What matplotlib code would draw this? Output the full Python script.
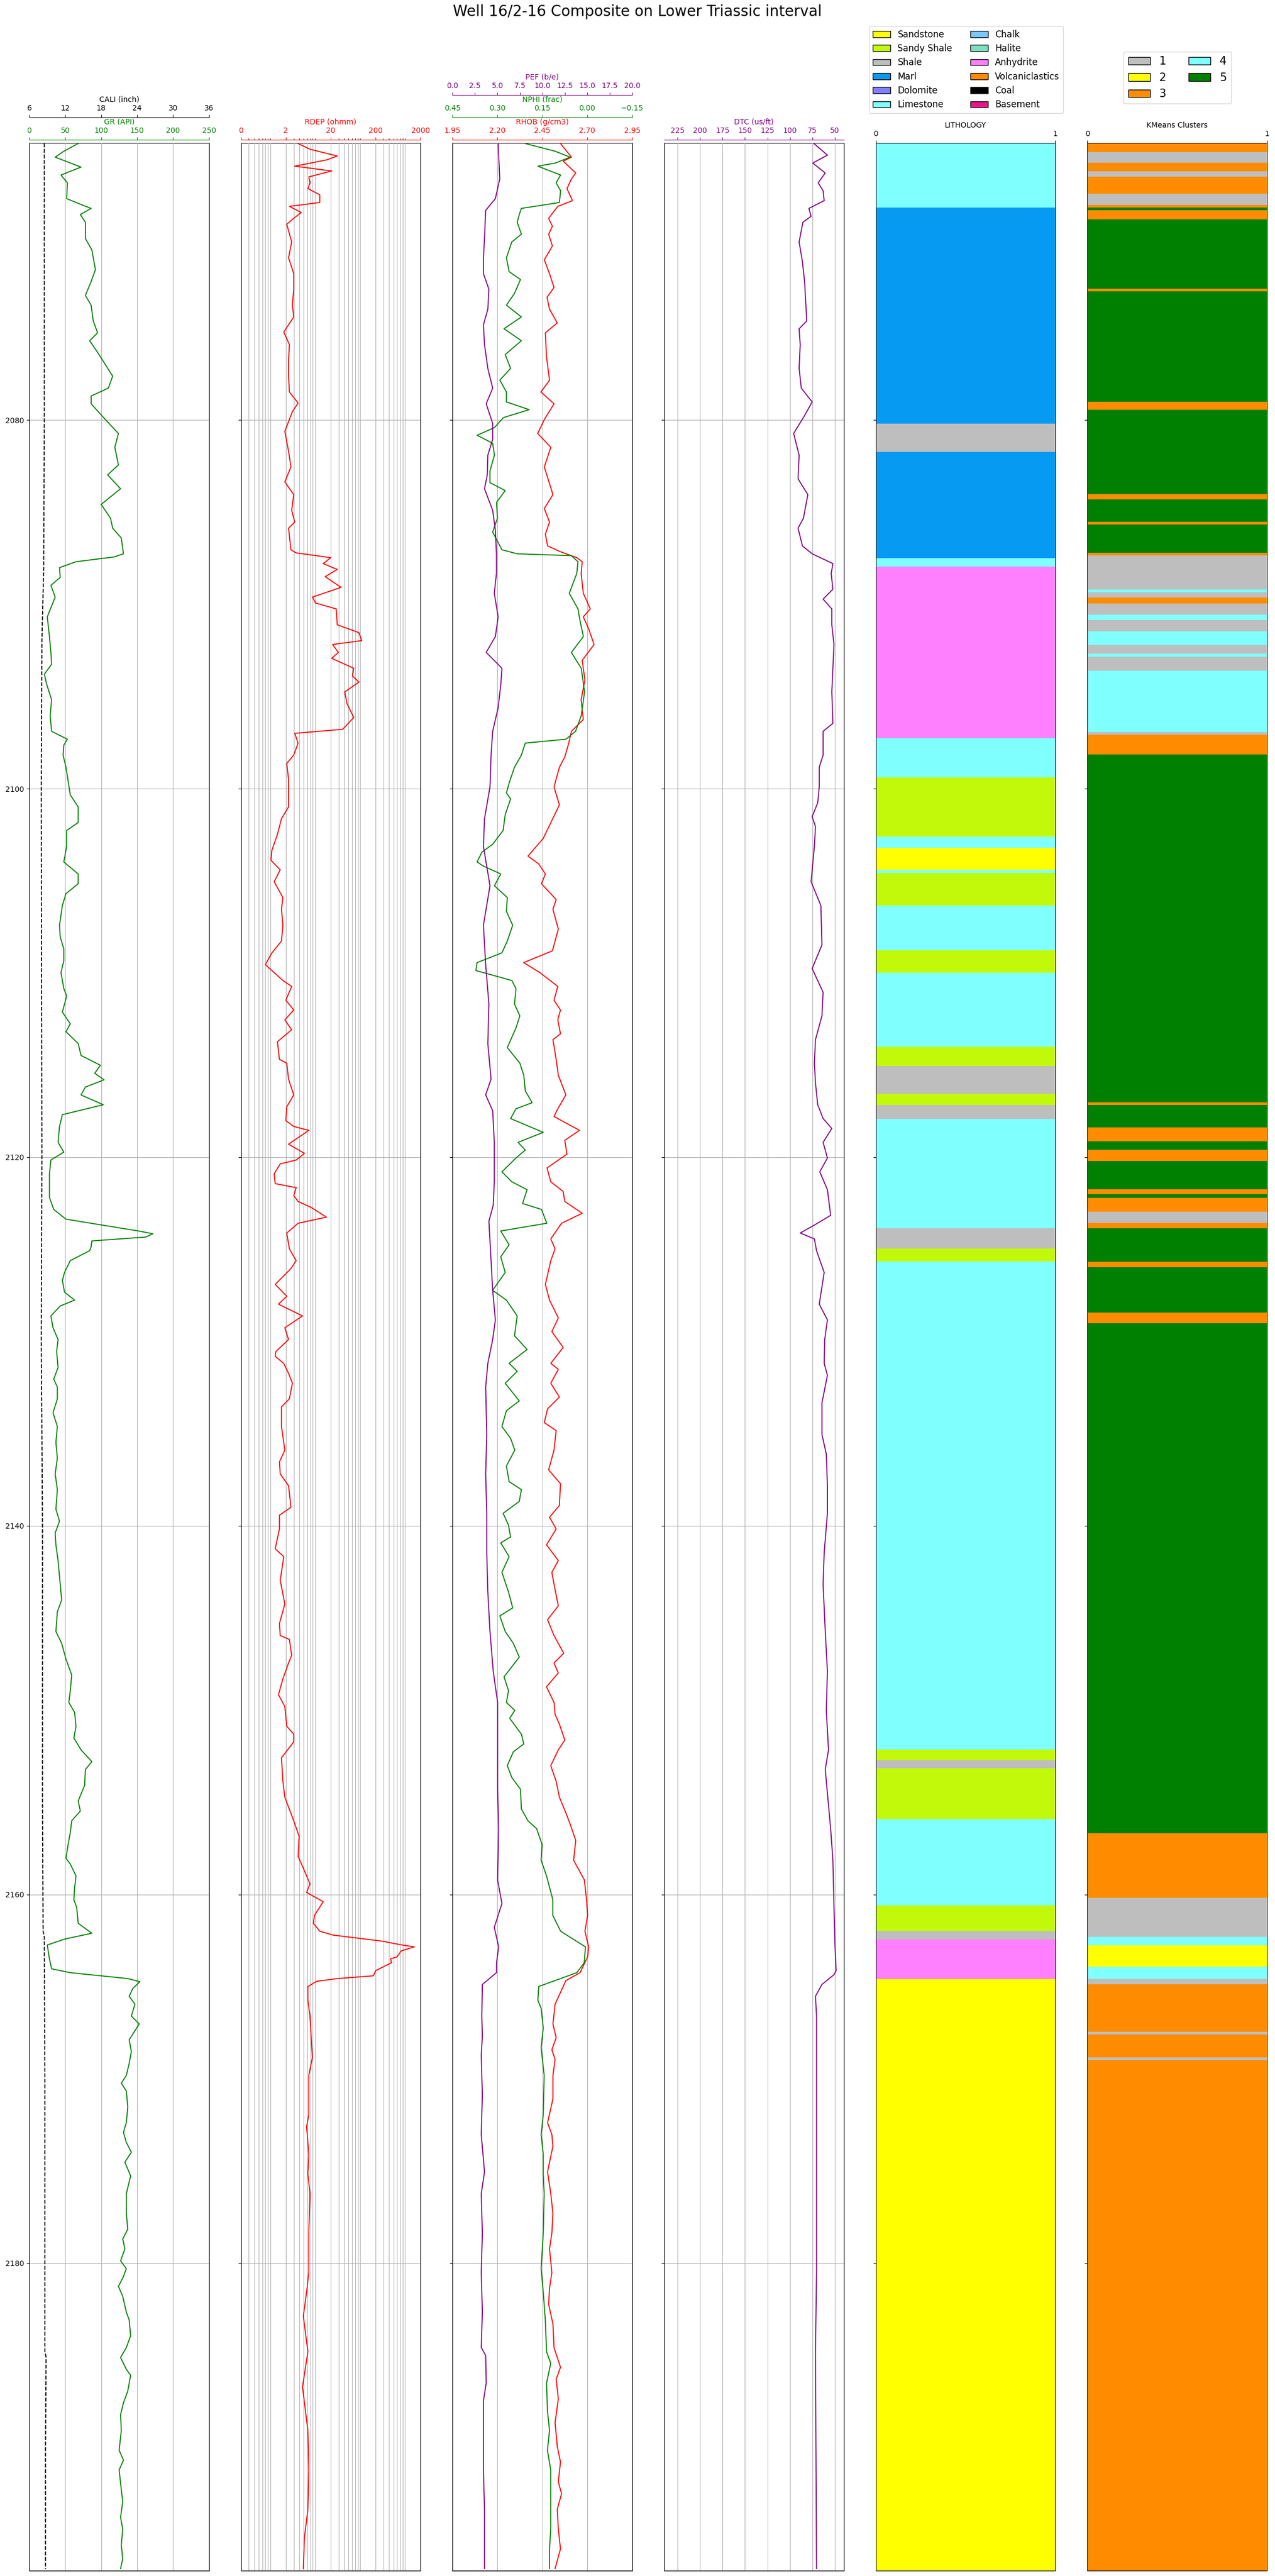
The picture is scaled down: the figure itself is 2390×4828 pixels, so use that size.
import numpy as np
import matplotlib
matplotlib.use("Agg")
import matplotlib.pyplot as plt
from matplotlib.patches import Patch

# ---------------- curve data (depth in m) ----------------
gr_depth = [2065.0, 2065.42, 2065.74, 2066.28, 2066.71, 2067.13, 2067.99, 2068.31, 2068.52, 2068.85,
            2069.27, 2070.15, 2070.77, 2071.84, 2072.49, 2073.24, 2073.77, 2074.63, 2075.27, 2075.70,
            2076.45, 2077.62, 2078.27, 2078.70, 2079.12, 2079.98, 2080.73, 2081.48, 2082.44, 2082.98,
            2083.73, 2084.58, 2085.33, 2085.87, 2086.40, 2087.26, 2087.43, 2087.69, 2088.01, 2088.54,
            2088.97, 2089.61, 2090.68, 2091.75, 2092.61, 2093.25, 2093.79, 2094.32, 2095.18, 2096.04,
            2096.89, 2097.32, 2097.64, 2098.18, 2098.84, 2100.34, 2100.99, 2101.84, 2102.27, 2103.13,
            2103.98, 2104.63, 2105.16, 2105.70, 2106.34, 2107.41, 2108.05, 2108.69, 2109.34, 2109.98,
            2110.84, 2111.26, 2112.12, 2112.76, 2113.19, 2113.83, 2114.48, 2115.01, 2115.44, 2115.80,
            2116.19, 2116.62, 2117.15, 2117.69, 2118.33, 2119.19, 2119.72, 2120.15, 2120.90, 2122.18,
            2122.83, 2123.36, 2124.00, 2124.15, 2124.33, 2124.54, 2124.86, 2125.07, 2125.61, 2126.25,
            2126.68, 2127.32, 2127.75, 2128.07, 2128.61, 2129.25, 2129.89, 2130.54, 2131.40, 2132.04,
            2132.47, 2133.11, 2133.86, 2134.61, 2135.47, 2136.32, 2137.18, 2138.03, 2139.10, 2139.74,
            2140.39, 2141.03, 2141.88, 2143.17, 2144.02, 2144.66, 2145.73, 2146.37, 2147.23, 2148.09,
            2148.94, 2149.58, 2150.12, 2150.87, 2151.51, 2152.15, 2152.79, 2153.22, 2154.07, 2154.93,
            2155.47, 2156.00, 2156.64, 2157.28, 2158.03, 2158.35, 2158.99, 2159.64, 2160.28, 2160.71,
            2161.56, 2162.10, 2162.42, 2162.74, 2163.49, 2164.03, 2164.24, 2164.56, 2164.73, 2165.10,
            2165.52, 2165.95, 2166.60, 2167.02, 2167.88, 2168.52, 2169.16, 2169.81, 2170.24, 2170.66,
            2171.52, 2172.38, 2172.91, 2173.45, 2173.98, 2174.52, 2175.27, 2176.23, 2177.30, 2178.16,
            2178.69, 2179.23, 2179.87, 2180.30, 2180.73, 2181.26, 2181.80, 2182.66, 2183.08, 2183.94,
            2184.58, 2185.12, 2185.76, 2186.08, 2186.94, 2187.58, 2188.22, 2189.08, 2190.15, 2190.69,
            2191.22, 2192.29, 2192.93, 2193.79, 2194.43, 2195.29, 2196.04, 2196.57]
gr = [68, 48, 36, 72, 44, 53, 52, 72, 86, 71,
      78, 78, 87, 92, 86, 78, 86, 89, 95, 84,
      97, 116, 110, 86, 86, 106, 124, 119, 124, 109,
      127, 100, 113, 116, 128, 131, 118, 65, 42, 43,
      30, 36, 25, 28, 30, 31, 21, 24, 31, 29,
      31, 53, 48, 47, 51, 57, 68, 68, 52, 52,
      48, 68, 68, 51, 46, 42, 43, 48, 48, 44,
      48, 52, 46, 57, 51, 68, 72, 99, 91, 104,
      78, 72, 103, 46, 42, 40, 48, 30, 28, 28,
      34, 51, 152, 172, 162, 87, 86, 84, 57, 49,
      46, 49, 63, 43, 30, 33, 40, 38, 40, 34,
      39, 39, 33, 39, 37, 39, 36, 39, 37, 42,
      36, 37, 40, 43, 45, 39, 37, 45, 51, 59,
      57, 55, 63, 65, 62, 72, 87, 78, 77, 68,
      71, 59, 57, 54, 51, 57, 65, 63, 62, 66,
      68, 87, 49, 25, 28, 31, 57, 137, 154, 144,
      139, 147, 142, 153, 139, 142, 139, 135, 128, 135,
      137, 135, 131, 135, 142, 133, 141, 135, 135, 137,
      130, 133, 127, 135, 131, 124, 130, 135, 139, 141,
      135, 127, 135, 141, 137, 131, 127, 128, 125, 131,
      125, 128, 130, 127, 130, 128, 130, 127]

cali_depth = [2065.0, 2080.0, 2088.0, 2092.0, 2100.0, 2120.0, 2130.0, 2140.0, 2155.0, 2162.0,
              2162.3, 2170.0, 2184.8, 2185.1, 2190.0, 2196.6]
cali = [8.5, 8.5, 8.4, 8.1, 8.0, 8.1, 8.0, 8.2, 8.2, 8.3,
        8.5, 8.6, 8.6, 8.8, 8.7, 8.7]

rdep_depth = [2065.0, 2065.31, 2065.68, 2065.89, 2066.23, 2066.49, 2066.81, 2067.13, 2067.45, 2067.78,
              2068.20, 2068.41, 2068.74, 2069.06, 2069.38, 2070.34, 2071.20, 2072.06, 2072.91, 2073.77,
              2074.41, 2075.23, 2075.91, 2076.77, 2077.62, 2078.48, 2079.08, 2079.55, 2080.62, 2081.69,
              2082.55, 2083.36, 2084.05, 2084.90, 2085.54, 2085.87, 2087.04, 2087.21, 2087.47, 2087.79,
              2088.11, 2088.50, 2089.08, 2089.61, 2089.93, 2090.25, 2091.11, 2091.54, 2091.97, 2092.18,
              2092.61, 2092.93, 2093.47, 2093.89, 2094.22, 2094.75, 2095.39, 2096.14, 2096.78, 2097.00,
              2097.53, 2098.18, 2098.63, 2099.49, 2100.99, 2101.63, 2102.48, 2103.34, 2103.88, 2104.41,
              2105.05, 2105.91, 2106.55, 2107.41, 2108.27, 2108.91, 2109.55, 2110.41, 2110.73, 2111.48,
              2112.01, 2112.55, 2113.08, 2113.73, 2114.69, 2114.90, 2115.76, 2116.62, 2117.26, 2118.01,
              2118.33, 2118.54, 2119.29, 2119.79, 2120.15, 2120.36, 2120.90, 2121.43, 2121.65, 2122.08,
              2122.40, 2122.72, 2123.25, 2123.58, 2124.11, 2124.97, 2125.61, 2126.04, 2126.90, 2127.54,
              2127.97, 2128.61, 2129.25, 2129.89, 2130.54, 2130.80, 2131.19, 2131.72, 2132.26, 2133.11,
              2133.54, 2134.61, 2135.89, 2136.53, 2137.18, 2137.82, 2138.99, 2139.42, 2140.17, 2141.24,
              2141.67, 2142.95, 2144.24, 2145.30, 2145.95, 2146.16, 2147.02, 2147.44, 2148.30, 2149.16,
              2149.80, 2150.87, 2151.30, 2151.72, 2152.58, 2153.86, 2154.72, 2156.00, 2156.85, 2157.93,
              2158.57, 2159.42, 2159.89, 2160.39, 2161.13, 2161.56, 2161.99, 2162.20, 2162.52, 2162.74,
              2162.84, 2163.06, 2163.38, 2163.49, 2163.70, 2164.13, 2164.41, 2164.56, 2164.71, 2164.99,
              2165.74, 2166.60, 2167.67, 2168.84, 2169.81, 2171.95, 2172.59, 2174.09, 2175.16, 2176.23,
              2178.37, 2180.51, 2181.58, 2182.87, 2184.80, 2186.72, 2189.08, 2191.22, 2193.36, 2194.86,
              2196.57]
rdep = [3.75, 6.9, 27.9, 16.1, 3.16, 21, 6.5, 6.9, 6.2, 11.4,
        11.4, 2.4, 4.4, 3.0, 2.1, 2.7, 2.3, 3.0, 3.0, 2.8,
        3.0, 1.8, 2.4, 2.3, 2.3, 2.4, 3.75, 2.8, 1.9, 2.3,
        2.6, 1.9, 3.0, 2.7, 3.16, 2.3, 2.6, 3.4, 20, 13.6,
        27.9, 15, 34, 7.8, 9.2, 26.5, 27.9, 85, 98, 22,
        29.5, 21, 65, 61, 85, 41, 46, 65, 37, 3.16,
        3.75, 3.0, 2.1, 2.3, 2.3, 1.6, 1.3, 0.98, 0.93, 1.5,
        1.1, 1.72, 1.6, 1.72, 1.6, 0.98, 0.7, 1.72, 2.7, 2.0,
        3.0, 1.9, 2.7, 1.3, 1.44, 2.1, 2.3, 3.0, 2.1, 2.0,
        3.0, 6.5, 2.3, 5.2, 3.4, 1.5, 1.1, 1.16, 3.4, 3.0,
        3.75, 7.3, 16, 3.75, 2.1, 2.4, 3.4, 2.6, 1.16, 2.1,
        1.37, 4.7, 1.9, 2.3, 1.2, 1.16, 1.8, 2.3, 2.8, 2.4,
        1.6, 1.6, 1.9, 1.44, 1.5, 2.3, 2.6, 1.44, 1.44, 1.16,
        1.8, 1.5, 1.9, 1.44, 1.5, 2.4, 2.7, 2.3, 1.72, 1.37,
        1.9, 2.1, 3.0, 3.0, 1.6, 1.72, 1.9, 3.0, 3.96, 3.75,
        4.9, 6.9, 5.8, 13.6, 8.7, 8.2, 11.4, 22.4, 260, 780,
        1450, 740, 600, 430, 450, 200, 178, 28, 9.7, 6.2,
        6.2, 6.9, 7.3, 7.8, 6.5, 6.5, 5.8, 6.5, 6.2, 6.9,
        6.5, 6.5, 5.8, 4.9, 6.2, 4.7, 6.2, 6.5, 6.2, 5.2,
        4.9]

rhob_depth = [2065.0, 2065.74, 2065.96, 2066.60, 2066.92, 2067.45, 2068.10, 2068.41, 2069.06, 2069.49,
              2069.92, 2070.56, 2071.31, 2072.06, 2072.81, 2073.34, 2073.99, 2074.73, 2075.27, 2076.55,
              2077.84, 2078.48, 2079.12, 2079.98, 2080.73, 2081.48, 2082.55, 2083.30, 2084.05, 2084.80,
              2085.54, 2086.19, 2086.83, 2087.15, 2087.47, 2087.69, 2088.33, 2089.40, 2090.25, 2090.68,
              2091.33, 2092.18, 2093.04, 2094.11, 2095.18, 2096.25, 2096.89, 2097.53, 2098.28, 2098.84,
              2099.91, 2100.88, 2101.73, 2102.70, 2103.66, 2104.09, 2104.63, 2105.16, 2106.02, 2106.55,
              2107.62, 2108.80, 2109.44, 2109.98, 2110.73, 2111.48, 2112.01, 2112.55, 2113.30, 2113.62,
              2114.69, 2115.55, 2116.62, 2117.37, 2117.79, 2118.54, 2119.08, 2119.83, 2120.58, 2121.33,
              2121.86, 2122.40, 2123.04, 2123.58, 2124.43, 2124.97, 2125.61, 2126.90, 2127.75, 2128.72,
              2129.46, 2130.32, 2131.18, 2131.51, 2132.26, 2133.01, 2133.65, 2134.40, 2134.83, 2135.89,
              2136.96, 2137.71, 2138.89, 2139.53, 2140.17, 2141.03, 2141.88, 2142.52, 2143.17, 2144.34,
              2145.09, 2145.95, 2146.91, 2147.44, 2147.98, 2148.73, 2149.58, 2150.22, 2150.76, 2151.62,
              2152.15, 2153.01, 2153.86, 2154.72, 2155.57, 2156.21, 2157.07, 2158.14, 2159.21, 2160.28,
              2161.13, 2161.99, 2162.84, 2163.38, 2164.24, 2164.67, 2165.31, 2165.95, 2167.02, 2167.77,
              2168.42, 2168.95, 2169.81, 2171.09, 2172.38, 2173.02, 2173.66, 2174.52, 2175.05, 2176.23,
              2177.30, 2178.37, 2179.23, 2180.51, 2181.37, 2182.23, 2183.30, 2184.58, 2185.65, 2186.30,
              2187.37, 2188.65, 2189.94, 2190.79, 2191.86, 2192.51, 2193.36, 2194.43, 2195.50, 2196.57]
rhob = [2.551, 2.612, 2.566, 2.636, 2.612, 2.587, 2.618, 2.536, 2.485, 2.506,
        2.485, 2.506, 2.461, 2.49, 2.515, 2.476, 2.49, 2.533, 2.467, 2.473,
        2.49, 2.442, 2.515, 2.461, 2.424, 2.497, 2.461, 2.485, 2.509, 2.461,
        2.49, 2.467, 2.479, 2.551, 2.642, 2.672, 2.666, 2.678, 2.717, 2.678,
        2.708, 2.738, 2.672, 2.687, 2.666, 2.678, 2.612, 2.597, 2.575, 2.545,
        2.515, 2.545, 2.503, 2.455, 2.37, 2.43, 2.467, 2.445, 2.527, 2.509,
        2.539, 2.506, 2.346, 2.436, 2.536, 2.515, 2.551, 2.536, 2.551, 2.509,
        2.527, 2.539, 2.581, 2.536, 2.515, 2.657, 2.575, 2.587, 2.476, 2.497,
        2.566, 2.575, 2.672, 2.557, 2.497, 2.521, 2.497, 2.467, 2.49, 2.539,
        2.503, 2.566, 2.497, 2.539, 2.497, 2.545, 2.479, 2.461, 2.527, 2.515,
        2.485, 2.551, 2.545, 2.49, 2.527, 2.473, 2.539, 2.503, 2.515, 2.539,
        2.479, 2.515, 2.569, 2.515, 2.539, 2.473, 2.515, 2.521, 2.545, 2.575,
        2.539, 2.497, 2.527, 2.545, 2.581, 2.606, 2.636, 2.624, 2.684, 2.696,
        2.702, 2.687, 2.708, 2.702, 2.66, 2.581, 2.551, 2.521, 2.509, 2.527,
        2.503, 2.521, 2.509, 2.509, 2.479, 2.503, 2.509, 2.49, 2.479, 2.497,
        2.509, 2.503, 2.49, 2.503, 2.49, 2.485, 2.509, 2.515, 2.551, 2.527,
        2.539, 2.521, 2.533, 2.551, 2.539, 2.557, 2.533, 2.539, 2.551, 2.521]

nphi_depth = [2065.0, 2065.42, 2065.74, 2066.06, 2066.23, 2066.71, 2067.13, 2067.56, 2068.20, 2068.52,
              2068.85, 2069.27, 2069.92, 2070.34, 2071.20, 2071.95, 2072.38, 2073.13, 2073.77, 2074.41,
              2075.05, 2075.70, 2076.45, 2077.20, 2077.84, 2078.48, 2079.02, 2079.44, 2079.87, 2080.41,
              2080.83, 2081.26, 2081.91, 2082.76, 2083.40, 2083.83, 2084.47, 2085.33, 2086.08, 2087.04,
              2087.26, 2087.36, 2087.69, 2088.33, 2089.40, 2090.25, 2090.90, 2091.75, 2092.61, 2093.47,
              2094.75, 2096.04, 2096.89, 2097.32, 2097.53, 2098.18, 2098.84, 2099.70, 2100.24, 2100.56,
              2101.41, 2102.27, 2103.02, 2103.45, 2103.98, 2104.20, 2104.63, 2105.27, 2105.91, 2106.66,
              2107.41, 2108.27, 2108.91, 2109.44, 2109.87, 2110.41, 2110.84, 2111.69, 2112.33, 2112.98,
              2114.05, 2114.90, 2115.55, 2116.40, 2117.04, 2117.37, 2117.90, 2118.65, 2119.19, 2119.61,
              2120.04, 2120.79, 2121.33, 2121.76, 2122.51, 2122.83, 2123.58, 2124.00, 2124.75, 2125.40,
              2126.25, 2127.22, 2127.75, 2128.61, 2129.68, 2130.43, 2131.18, 2131.61, 2132.26, 2133.22,
              2133.75, 2134.61, 2135.25, 2135.89, 2136.75, 2137.60, 2138.03, 2138.67, 2139.32, 2139.96,
              2140.60, 2140.92, 2141.67, 2142.52, 2143.59, 2144.45, 2144.88, 2145.73, 2146.37, 2147.12,
              2148.19, 2148.94, 2149.58, 2150.01, 2150.44, 2151.30, 2151.83, 2152.26, 2153.01, 2153.65,
              2154.29, 2155.36, 2156.00, 2156.43, 2157.28, 2158.14, 2158.99, 2160.28, 2161.13, 2161.99,
              2162.84, 2163.70, 2164.24, 2164.99, 2165.74, 2166.17, 2167.24, 2168.31, 2169.81, 2171.95,
              2173.02, 2174.09, 2175.16, 2176.23, 2178.37, 2180.30, 2181.58, 2183.08, 2184.80, 2185.44,
              2186.51, 2188.01, 2189.08, 2190.15, 2191.22, 2193.36, 2194.43, 2195.50, 2196.57]
nphi = [0.207, 0.107, 0.057, 0.107, 0.165, 0.089, 0.104, 0.089, 0.093, 0.22,
        0.227, 0.234, 0.22, 0.252, 0.27, 0.261, 0.223, 0.243, 0.27, 0.22,
        0.278, 0.22, 0.274, 0.256, 0.292, 0.27, 0.27, 0.194, 0.28, 0.31,
        0.368, 0.316, 0.31, 0.325, 0.325, 0.274, 0.303, 0.3, 0.316, 0.285,
        0.234, 0.053, 0.031, 0.035, 0.06, 0.031, 0.024, 0.013, 0.053, 0.02,
        0.009, 0.02, 0.039, 0.071, 0.207, 0.22, 0.243, 0.261, 0.27, 0.256,
        0.274, 0.281, 0.316, 0.352, 0.368, 0.347, 0.289, 0.31, 0.267, 0.27,
        0.249, 0.267, 0.285, 0.368, 0.372, 0.252, 0.238, 0.243, 0.225, 0.238,
        0.267, 0.225, 0.212, 0.207, 0.184, 0.238, 0.256, 0.147, 0.231, 0.207,
        0.238, 0.285, 0.252, 0.201, 0.216, 0.153, 0.135, 0.289, 0.261, 0.289,
        0.274, 0.316, 0.27, 0.234, 0.243, 0.201, 0.261, 0.234, 0.274, 0.227,
        0.27, 0.285, 0.256, 0.242, 0.27, 0.261, 0.22, 0.227, 0.281, 0.263,
        0.256, 0.289, 0.261, 0.285, 0.263, 0.249, 0.292, 0.274, 0.247, 0.227,
        0.278, 0.263, 0.27, 0.242, 0.259, 0.22, 0.212, 0.247, 0.267, 0.252,
        0.223, 0.22, 0.198, 0.169, 0.151, 0.154, 0.136, 0.115, 0.115, 0.089,
        0.006, 0.01, 0.035, 0.162, 0.165, 0.154, 0.147, 0.154, 0.144, 0.147,
        0.154, 0.147, 0.147, 0.144, 0.147, 0.154, 0.147, 0.14, 0.136, 0.122,
        0.136, 0.133, 0.126, 0.133, 0.122, 0.122, 0.122, 0.126, 0.126]

pef_depth = [2065.0, 2066.92, 2067.99, 2068.63, 2070.15, 2071.20, 2072.06, 2072.91, 2073.99, 2074.84,
             2075.91, 2077.20, 2078.27, 2079.12, 2080.19, 2081.05, 2081.91, 2082.98, 2083.73, 2084.90,
             2085.97, 2087.26, 2088.33, 2089.40, 2090.68, 2091.75, 2092.61, 2093.47, 2094.32, 2095.61,
             2096.89, 2098.18, 2099.91, 2101.63, 2103.13, 2105.27, 2107.41, 2109.55, 2111.69, 2113.83,
             2115.76, 2116.62, 2117.47, 2119.19, 2121.33, 2122.61, 2123.47, 2125.61, 2127.22, 2128.82,
             2129.89, 2131.18, 2132.47, 2135.04, 2137.18, 2139.32, 2141.46, 2143.59, 2145.73, 2147.87,
             2149.58, 2152.15, 2154.29, 2156.43, 2159.21, 2160.49, 2161.78, 2162.84, 2163.70, 2164.24,
             2164.88, 2166.60, 2167.67, 2168.74, 2170.88, 2173.02, 2175.05, 2176.23, 2178.37, 2180.51,
             2182.66, 2184.58, 2185.01, 2186.51, 2187.47, 2189.08, 2191.22, 2193.36, 2196.57]
pef = [5.08, 5.26, 4.77, 3.69, 3.56, 3.44, 3.44, 4.05, 3.93, 3.44,
       3.56, 3.93, 4.47, 3.75, 4.47, 4.47, 3.93, 3.87, 3.56, 4.47,
       4.77, 4.89, 4.89, 4.65, 5.08, 4.77, 3.75, 5.5, 5.38, 5.08,
       4.47, 4.29, 4.17, 3.56, 3.44, 4.17, 3.44, 3.69, 4.05, 3.93,
       4.29, 3.69, 4.47, 4.65, 4.65, 4.53, 4.05, 4.29, 4.47, 4.77,
       4.47, 3.93, 3.69, 3.81, 3.69, 3.81, 3.81, 3.93, 4.17, 4.53,
       5.02, 5.02, 5.02, 5.14, 5.02, 5.5, 4.65, 5.14, 4.9, 4.89,
       3.32, 3.26, 3.32, 3.2, 3.32, 3.2, 3.56, 3.2, 3.32, 3.2,
       3.32, 3.2, 3.69, 3.75, 3.44, 3.44, 3.44, 3.56, 3.56]

dtc_depth = [2065.0, 2065.63, 2066.06, 2066.60, 2067.13, 2067.56, 2068.10, 2068.52, 2068.95, 2069.27,
             2070.34, 2071.42, 2072.49, 2073.56, 2074.63, 2075.05, 2075.91, 2077.20, 2078.27, 2079.02,
             2079.76, 2080.73, 2081.91, 2083.19, 2084.05, 2085.33, 2085.87, 2086.83, 2087.26, 2087.79,
             2088.33, 2089.18, 2089.72, 2090.25, 2091.11, 2092.18, 2094.75, 2096.46, 2096.89, 2098.18,
             2098.84, 2099.91, 2100.77, 2101.52, 2102.06, 2103.13, 2105.05, 2106.34, 2108.48, 2109.76,
             2111.05, 2112.33, 2113.62, 2114.90, 2115.97, 2117.15, 2117.90, 2118.44, 2119.19, 2120.04,
             2120.79, 2121.76, 2123.15, 2123.68, 2124.11, 2124.43, 2125.07, 2126.25, 2127.97, 2128.82,
             2129.89, 2131.18, 2131.83, 2133.33, 2135.04, 2136.11, 2137.82, 2139.32, 2141.46, 2143.17,
             2145.73, 2147.87, 2150.01, 2152.15, 2153.22, 2156.43, 2158.14, 2160.71, 2162.84, 2164.13,
             2164.35, 2164.88, 2165.52, 2166.60, 2171.95, 2180.51, 2184.80, 2196.57]
dtc = [73.3, 58.2, 74.5, 60.6, 68.5, 63, 61.8, 78.8, 76.4, 85.5,
       89.7, 86, 83.6, 82.4, 81.2, 89.7, 88.5, 89.7, 87.3, 75.2,
       83.6, 95.8, 89.7, 90.9, 80, 84.9, 90.9, 86, 75.2, 52.1,
       54, 52.1, 63, 53.3, 53.3, 50.9, 53.3, 52.1, 63, 63,
       67.3, 67.3, 69, 75.2, 71.5, 72.7, 76.4, 65.5, 64.3, 75.2,
       63, 64.3, 71.5, 72.7, 71.5, 69, 63, 53.3, 63, 58.2,
       66.7, 58.2, 54.6, 72.7, 88.5, 72.7, 70.3, 61.8, 67.3, 58.2,
       61.2, 61.8, 58.2, 64.3, 64.3, 59.4, 58.2, 58.2, 61.8, 63,
       60.6, 58.2, 59.4, 57, 60.6, 54.6, 52.1, 50.9, 49.7, 48.5,
       50.9, 64.3, 71.5, 70.3, 70.3, 70.3, 71.5, 70.3]

# ---------------- interpreted intervals ----------------
depth_top = 2064.97
depth_base = 2196.68

litho_tops = [2064.97, 2068.48, 2080.20, 2081.74, 2087.50, 2087.95, 2097.25, 2099.40, 2102.60, 2103.20,
              2104.40, 2104.58, 2106.35, 2108.78, 2109.99, 2114.00, 2115.04, 2116.55, 2117.17, 2117.92,
              2123.84, 2124.94, 2125.64, 2152.12, 2152.70, 2153.15, 2155.91, 2160.59, 2161.97, 2162.43,
              2164.57]
litho_names = ['Limestone', 'Marl', 'Shale', 'Marl', 'Limestone', 'Anhydrite', 'Limestone', 'Sandy Shale',
               'Limestone', 'Sandstone', 'Limestone', 'Sandy Shale', 'Limestone', 'Sandy Shale', 'Limestone',
               'Sandy Shale', 'Shale', 'Sandy Shale', 'Shale', 'Limestone', 'Shale', 'Sandy Shale',
               'Limestone', 'Sandy Shale', 'Shale', 'Sandy Shale', 'Limestone', 'Sandy Shale', 'Shale',
               'Anhydrite', 'Sandstone']

lith_legend = ['Sandstone', 'Sandy Shale', 'Shale', 'Marl', 'Dolomite', 'Limestone',
               'Chalk', 'Halite', 'Anhydrite', 'Volcaniclastics', 'Coal', 'Basement']
lith_colors = ['#ffff00', '#c2f90a', '#bebebe', '#069af3', '#8080ff', '#80ffff',
               '#7bc8f6', '#7ddfbe', '#ff80ff', '#ff8c00', '#000000', '#ef138a']

cluster_tops = [2064.97, 2065.45, 2066.04, 2066.52, 2066.80, 2067.72, 2068.34, 2068.48, 2068.62, 2069.10,
                2072.87, 2073.03, 2079.00, 2079.44, 2084.02, 2084.30, 2085.53, 2085.67, 2087.19, 2087.36,
                2089.19, 2089.35, 2089.63, 2089.94, 2090.56, 2090.84, 2091.46, 2092.22, 2092.67, 2092.84,
                2093.60, 2096.94, 2097.08, 2098.15, 2117.03, 2117.17, 2118.37, 2119.13, 2119.61, 2120.20,
                2121.74, 2121.99, 2122.19, 2122.95, 2123.56, 2123.84, 2125.67, 2125.97, 2128.42, 2129.00,
                2156.67, 2160.17, 2162.28, 2162.76, 2163.92, 2164.57, 2164.88, 2167.45, 2167.59, 2168.83,
                2168.97]
cluster_ids = [3, 1, 3, 1, 3, 1, 3, 5, 3, 5,
               3, 5, 3, 5, 3, 5, 3, 5, 3, 1,
               4, 1, 3, 1, 4, 1, 4, 1, 4, 1,
               4, 1, 3, 5, 3, 5, 3, 5, 3, 5,
               3, 5, 3, 1, 3, 5, 3, 5, 3, 5,
               3, 1, 4, 2, 4, 1, 3, 1, 3, 1,
               3]
cluster_labels = ['1', '2', '3', '4', '5']
cluster_colors = ['#bebebe', '#ffff00', '#ff8c00', '#80ffff', '#008000']

depth_ticks = [2080, 2100, 2120, 2140, 2160, 2180]

# ---------------- figure ----------------
fig = plt.figure(figsize=(23.9, 48.28), dpi=100)
axes = fig.subplots(1, 6, sharey=True)
fig.subplots_adjust(left=0.023, right=0.9937, bottom=0.0021, top=0.9445, wspace=0.178)

axes[0].set_ylim(depth_base, depth_top)
axes[0].set_yticks(depth_ticks)

px = 0.72  # pixels -> points at 100 dpi


def add_curve(ax, x, y, color, label, xlim, ticks, offset, ls='-', log=False, grid=False):
    tw = ax.twiny()
    tw.plot(x, y, color=color, ls=ls, lw=1.4)
    if log:
        tw.set_xscale('log')
    tw.set_xlim(xlim)
    tw.set_xticks(ticks)
    tw.set_xlabel(label, color=color)
    tw.tick_params(axis='x', colors=color)
    tw.spines['top'].set_position(('outward', offset * px))
    tw.spines['top'].set_edgecolor(color)
    if grid:
        tw.grid(True, axis='x', which='both' if log else 'major')
    return tw


# track 1: GR + CALI
add_curve(axes[0], gr, gr_depth, 'green', 'GR (API)', (0, 250), [0, 50, 100, 150, 200, 250], 6, grid=True)
add_curve(axes[0], cali, cali_depth, 'black', 'CALI (inch)', (6, 36), [6, 12, 18, 24, 30, 36], 48, ls='--')

# track 2: RDEP
t2 = add_curve(axes[1], rdep, rdep_depth, 'red', 'RDEP (ohmm)', (0.2, 2000), [0.2, 2, 20, 200, 2000], 6,
               log=True, grid=True)
t2.set_xticklabels(['0', '2', '20', '200', '2000'])

# track 3: RHOB, NPHI, PEF
add_curve(axes[2], rhob, rhob_depth, 'red', 'RHOB (g/cm3)', (1.95, 2.95), [1.95, 2.2, 2.45, 2.7, 2.95], 6,
          grid=True)
add_curve(axes[2], nphi, nphi_depth, 'green', 'NPHI (frac)', (0.45, -0.15), [0.45, 0.3, 0.15, 0.0, -0.15], 48)
add_curve(axes[2], pef, pef_depth, 'purple', 'PEF (b/e)', (0, 20), np.arange(0, 20.1, 2.5), 90)

# track 4: DTC
add_curve(axes[3], dtc, dtc_depth, 'purple', 'DTC (us/ft)', (240, 40), [225, 200, 175, 150, 125, 100, 75, 50],
          6, grid=True)

# twiny puts the host x ticks at the bottom; hide them again
for ax in axes[:4]:
    ax.tick_params(axis='x', bottom=False, labelbottom=False, top=False, labeltop=False)
    ax.grid(True, axis='y')

# tracks 5 and 6: lithology and clusters
lith_map = dict(zip(lith_legend, lith_colors))
litho_bases = litho_tops[1:] + [depth_base]
for top, base, name in zip(litho_tops, litho_bases, litho_names):
    axes[4].fill_betweenx([top, base], 0, 1, color=lith_map[name], lw=0)

cluster_bases = cluster_tops[1:] + [depth_base]
for top, base, cid in zip(cluster_tops, cluster_bases, cluster_ids):
    axes[5].fill_betweenx([top, base], 0, 1, color=cluster_colors[cid - 1], lw=0)

for ax, title in zip(axes[4:], ['LITHOLOGY', 'KMeans Clusters']):
    ax.set_xlim(0, 1)
    ax.set_xticks([0, 1])
    ax.xaxis.tick_top()
    ax.xaxis.set_label_position('top')
    ax.set_xlabel(title)

lith_handles = [Patch(facecolor=c, edgecolor='k', label=n) for n, c in zip(lith_legend, lith_colors)]
fig.legend(handles=lith_handles, loc='upper center', bbox_to_anchor=(0.7577, 0.98985), ncol=2,
           fontsize=12, borderaxespad=0)

cl_handles = [Patch(facecolor=c, edgecolor='k', label=n) for n, c in zip(cluster_labels, cluster_colors)]
fig.legend(handles=cl_handles, loc='upper center', bbox_to_anchor=(0.9234, 0.97991), ncol=2,
           fontsize=15, borderaxespad=0)

fig.suptitle('Well 16/2-16 Composite on Lower Triassic interval', fontsize=20, y=0.99544, va='center')

fig.savefig('out.png', dpi=100)
